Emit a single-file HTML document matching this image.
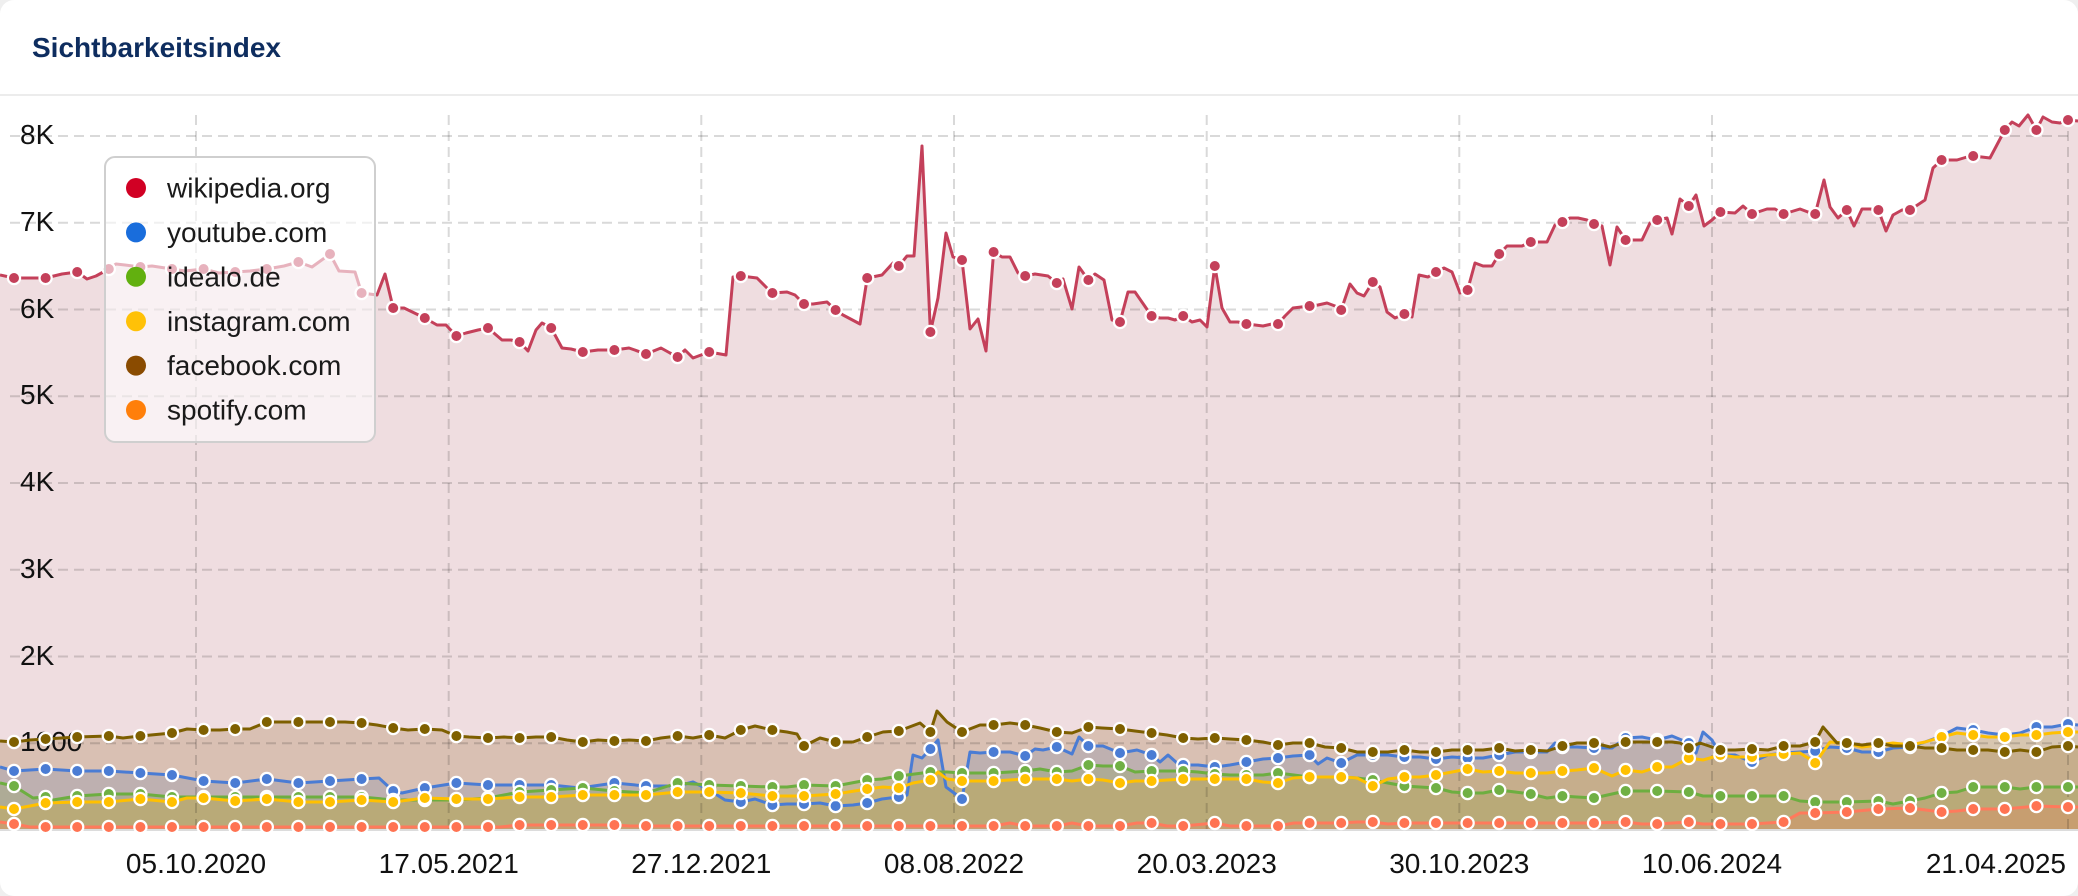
<!DOCTYPE html>
<html><head><meta charset="utf-8"><style>
html,body{margin:0;padding:0;background:#efefef;}
.card{position:absolute;left:0;top:0;width:2078px;height:896px;background:#fff;border-radius:14px;overflow:hidden;}
svg{position:absolute;left:0;top:0;}
text{font-family:"Liberation Sans",Arial,sans-serif;}
</style></head><body><div class="card">
<svg width="2078" height="896" viewBox="0 0 2078 896" xmlns="http://www.w3.org/2000/svg">
<defs>
<marker id="mw" markerWidth="18" markerHeight="18" refX="9" refY="9" markerUnits="userSpaceOnUse" overflow="visible"><circle cx="9" cy="9" r="6.1" fill="#c4405a" stroke="#fff" stroke-width="2.2"/></marker>
<marker id="mb" markerWidth="18" markerHeight="18" refX="9" refY="9" markerUnits="userSpaceOnUse" overflow="visible"><circle cx="9" cy="9" r="6.1" fill="#4a7cd4" stroke="#fff" stroke-width="2.2"/></marker>
<marker id="mg" markerWidth="18" markerHeight="18" refX="9" refY="9" markerUnits="userSpaceOnUse" overflow="visible"><circle cx="9" cy="9" r="6.1" fill="#70b044" stroke="#fff" stroke-width="2.2"/></marker>
<marker id="my" markerWidth="18" markerHeight="18" refX="9" refY="9" markerUnits="userSpaceOnUse" overflow="visible"><circle cx="9" cy="9" r="6.1" fill="#ffc000" stroke="#fff" stroke-width="2.2"/></marker>
<marker id="mf" markerWidth="18" markerHeight="18" refX="9" refY="9" markerUnits="userSpaceOnUse" overflow="visible"><circle cx="9" cy="9" r="6.1" fill="#7f6000" stroke="#fff" stroke-width="2.2"/></marker>
<marker id="mo" markerWidth="18" markerHeight="18" refX="9" refY="9" markerUnits="userSpaceOnUse" overflow="visible"><circle cx="9" cy="9" r="6.1" fill="#ff7352" stroke="#fff" stroke-width="2.2"/></marker>
</defs>

<text x="32" y="57" font-size="28" font-weight="bold" fill="#0e2d5f">Sichtbarkeitsindex</text>
<line x1="0" y1="95" x2="2078" y2="95" stroke="#ececec" stroke-width="2"/>

<!-- fills -->
<polygon fill="rgb(191,119,131)" fill-opacity="0.25" points="0,830 0,275 14,278 30,278 45.6,278 62,274 77.2,272 87,279 96,276 108.8,269 116,264 125,265 140.4,267 152,266 172,269 185,271 203.6,269 219,273 235.2,272 250,271 266.8,269 284,266 298.4,262 312,267 330,254 339,271 355,272 361.6,293 377,295 385,274 393.2,308 404,308 424.8,318 437,325 446,325 456.4,336 466,333 478,330 488,328 502,340 511,340 519.6,342 528,351 536,330 542,323 551.2,328 562,348 571,349 582.8,352 598,350 614.4,350 629,348 646,354 661,348 670,353 677.6,357 685,350 693,358 709.2,352 726,355 733,277 740.8,276 757,278 767,288 772.4,293 787,292 795,295 804,304 813,304 827,302 835.6,310 843,315 860,324 867.2,278 882,275 893,263 898.8,266 907,256 914,256 922,146 930.4,332 938,298 946,233 953,257 962,260 970,329 978,319 986,351 993.6,252 1002,257 1010,257 1018,273 1025.2,276 1035,274 1048,276 1056.8,283 1063,279 1072,309 1079,267 1088.4,280 1095,274 1104,280 1112,320 1120,322 1128,292 1135,292 1151.6,316 1160,318 1168,318 1175,320 1183.2,316 1192,322 1200,320 1207,327 1214.8,266 1222,308 1230,322 1238,322 1246.4,324 1255,325 1263,326 1272,324 1278,324 1285,316 1293,308 1309.6,306 1318,305 1327,303 1335,306 1341.2,310 1350,284 1357,293 1364,296 1372.8,282 1380,287 1387,312 1395,318 1404.4,314 1412,317 1419,275 1428,277 1436,272 1444,268 1452,272 1460,293 1467.6,290 1475,263 1483,266 1492,266 1499.2,254 1507,246 1522,246 1530.8,242 1547,242 1555,225 1562.4,222 1570,218 1578,218 1587,220 1594,224 1602,226 1610,265 1617,227 1625.6,240 1642,240 1650,223 1657.2,220 1667,218 1672,234 1680,199 1688.8,206 1696,195 1704,226 1712,220 1720.4,212 1735,213 1743,206 1752,214 1767,209 1775,209 1783.6,214 1800,209 1808,212 1815.2,214 1824,180 1830,207 1838,218 1846.8,210 1854,226 1862,209 1870,209 1878.4,210 1886,231 1893,215 1902,210 1910,210 1925,200 1933,168 1941.6,160 1957,160 1967,157 1973.2,156 1990,158 2004.8,130 2012,122 2019,126 2028,115 2036.4,130 2043,117 2052,122 2060,123 2068,120 2078,121 2078,830"/>
<polygon fill="rgb(74,123,212)" fill-opacity="0.2" points="0,830 0,767 14,771 45.6,769 77.2,771 108.8,771 140.4,773 172,775 203.6,781 235.2,783 266.8,779 298.4,783 330,781 361.6,779 379,778 393.2,791 402,793 424.8,788 456.4,783 488,785 519.6,785 551.2,785 580,788 614.4,783 646,786 677.6,786 693,782 709.2,790 725,800 740.8,802 755,799 772.4,805 787,804 804,804 820,803 835.6,806 853,805 867.2,803 882,799 898.8,797 907,795 913,755 922,758 930.4,749 938,740 946,787 962,799 970,752 980,753 993.6,752 1010,752 1025.2,756 1035,749 1043,750 1056.8,747 1072,754 1079,737 1088.4,746 1103,746 1120,753 1137,750 1151.6,755 1160,762 1168,755 1177,763 1183.2,765 1198,765 1214.8,767 1230,765 1246.4,762 1263,759 1278,758 1293,756 1309.6,755 1318,764 1327,758 1341.2,763 1357,755 1372.8,755 1388,755 1404.4,757 1420,757 1436,759 1452,757 1467.6,758 1483,758 1499.2,755 1515,752 1530.8,752 1547,752 1555,743 1562.4,747 1577,747 1594,748 1612,748 1625.6,738 1642,737 1657.2,740 1672,736 1688.8,743 1696,753 1703,732 1712,740 1720.4,755 1735,755 1752,762 1768,755 1783.6,753 1800,752 1815.2,751 1830,747 1846.8,748 1862,752 1878.4,752 1893,748 1910,747 1925,742 1941.6,736 1957,728 1973.2,730 1988,733 2004.8,735 2020,733 2036.4,727 2052,727 2068,724 2078,725 2078,830"/>
<polygon fill="rgb(106,170,58)" fill-opacity="0.2" points="0,830 0,783 14,786 33,798 45.6,797 53,800 77.2,796 108.8,794 140.4,794 172,797 203.6,797 235.2,797 266.8,797 298.4,797 330,797 361.6,797 393.2,800 424.8,800 456.4,800 488,798 519.6,792 551.2,790 582.8,788 614.4,791 646,793 677.6,783 709.2,785 740.8,786 772.4,787 787,787 804,785 835.6,786 867.2,780 882,779 898.8,776 930.4,772 947,772 962,773 993.6,773 1010,772 1025.2,771 1040,769 1056.8,772 1072,771 1088.4,765 1103,766 1120,766 1135,772 1151.6,771 1183.2,771 1198,772 1214.8,774 1230,775 1246.4,775 1263,775 1278,773 1309.6,777 1341.2,777 1357,778 1372.8,780 1388,783 1404.4,786 1420,787 1436,788 1452,792 1467.6,793 1483,793 1499.2,790 1515,792 1530.8,794 1547,798 1562.4,796 1577,797 1594,798 1612,794 1625.6,791 1657.2,791 1688.8,792 1703,796 1720.4,796 1752,796 1783.6,796 1800,801 1815.2,802 1846.8,802 1878.4,801 1893,804 1910,801 1925,798 1941.6,793 1957,792 1973.2,787 2004.8,787 2020,789 2036.4,787 2068,787 2078,787 2078,830"/>
<polygon fill="rgb(255,192,0)" fill-opacity="0.2" points="0,830 0,807 14,809 45.6,803 77.2,802 108.8,802 140.4,799 172,802 187,798 203.6,798 235.2,801 266.8,799 298.4,802 330,802 361.6,800 393.2,802 424.8,798 456.4,799 488,799 519.6,797 551.2,797 582.8,795 614.4,795 646,795 677.6,792 709.2,792 740.8,793 772.4,796 804,796 835.6,794 867.2,789 883,787 898.8,788 913,783 930.4,780 938,772 947,779 962,781 993.6,781 1025.2,779 1056.8,779 1072,781 1088.4,779 1103,780 1120,783 1135,781 1151.6,781 1183.2,779 1214.8,779 1246.4,779 1263,782 1278,783 1293,778 1309.6,777 1341.2,777 1357,778 1372.8,786 1388,779 1404.4,777 1420,777 1436,775 1452,772 1467.6,769 1483,772 1499.2,771 1515,773 1530.8,773 1547,773 1562.4,771 1577,770 1594,768 1612,776 1625.6,770 1642,772 1657.2,767 1672,767 1688.8,758 1703,760 1720.4,755 1735,757 1752,757 1768,755 1783.6,754 1800,753 1808,758 1815.2,763 1830,742 1846.8,743 1862,747 1878.4,745 1893,743 1910,745 1925,742 1941.6,737 1957,733 1973.2,735 1988,737 2004.8,737 2020,735 2036.4,735 2052,733 2068,732 2078,732 2078,830"/>
<polygon fill="rgb(130,80,0)" fill-opacity="0.2" points="0,830 0,741 14,742 30,740 45.6,739 77.2,737 108.8,736 123,738 140.4,736 172,733 187,729 203.6,730 220,730 235.2,729 250,729 266.8,722 298.4,722 317,722 330,722 345,722 361.6,723 377,725 393.2,728 408,730 424.8,729 442,730 456.4,736 469,737 488,738 504,737 519.6,738 536,737 551.2,737 567,740 582.8,742 598,740 614.4,741 629,740 646,741 661,738 677.6,736 693,738 709.2,735 725,738 740.8,730 755,726 772.4,730 787,732 797,734 804,746 820,738 835.6,742 853,742 867.2,737 883,732 898.8,731 920,723 930.4,732 937,711 947,722 962,732 980,725 993.6,725 1010,723 1025.2,725 1040,728 1056.8,732 1072,733 1088.4,727 1102,728 1120,729 1135,731 1151.6,733 1167,735 1183.2,738 1198,739 1214.8,738 1230,739 1246.4,740 1263,742 1278,745 1293,743 1309.6,743 1325,747 1341.2,748 1357,752 1372.8,752 1388,752 1404.4,750 1420,752 1436,752 1452,750 1467.6,750 1483,750 1499.2,748 1515,751 1530.8,750 1547,751 1562.4,746 1577,743 1594,743 1610,747 1625.6,742 1642,742 1657.2,742 1672,742 1680,743 1688.8,748 1700,743 1712,747 1720.4,750 1735,750 1752,749 1768,750 1783.6,746 1800,746 1815.2,742 1823,727 1837,743 1846.8,743 1862,745 1878.4,743 1893,746 1910,746 1925,748 1941.6,748 1957,750 1973.2,750 1988,750 2004.8,752 2020,750 2036.4,752 2052,747 2068,746 2078,747 2078,830"/>
<polygon fill="rgb(255,112,80)" fill-opacity="0.2" points="0,830 0,822 14,824 30,827 500,827 519.6,825 614.4,825 630,826 993.6,826 1010,823 1025.2,826 1056.8,826 1072,823 1088.4,826 1120,826 1137,823 1151.6,823 1167,826 1183.2,826 1214.8,823 1230,826 1278,826 1294,823 1341.2,823 1357,822 1372.8,822 1388,824 1404.4,823 1594,823 1625.6,822 1642,824 1657.2,824 1688.8,822 1703,824 1752,824 1783.6,822 1800,813 1815.2,813 1846.8,812 1878.4,809 1910,808 1941.6,812 1957,811 1973.2,809 2004.8,809 2036.4,806 2068,807 2078,807 2078,830"/>

<!-- grid -->
<g stroke="#000" stroke-opacity="0.15" stroke-width="2" stroke-dasharray="10,6" fill="none">
<line x1="10" y1="136" x2="2068" y2="136"/>
<line x1="10" y1="222.75" x2="2068" y2="222.75"/>
<line x1="10" y1="309.5" x2="2068" y2="309.5"/>
<line x1="10" y1="396.25" x2="2068" y2="396.25"/>
<line x1="10" y1="483" x2="2068" y2="483"/>
<line x1="10" y1="569.75" x2="2068" y2="569.75"/>
<line x1="10" y1="656.5" x2="2068" y2="656.5"/>
<line x1="10" y1="743.25" x2="2068" y2="743.25"/>
<line x1="196" y1="115" x2="196" y2="830"/>
<line x1="448.7" y1="115" x2="448.7" y2="830"/>
<line x1="701.3" y1="115" x2="701.3" y2="830"/>
<line x1="954" y1="115" x2="954" y2="830"/>
<line x1="1206.7" y1="115" x2="1206.7" y2="830"/>
<line x1="1459.3" y1="115" x2="1459.3" y2="830"/>
<line x1="1712" y1="115" x2="1712" y2="830"/>
<line x1="2068" y1="115" x2="2068" y2="830"/>
</g>
<line x1="0" y1="830" x2="2078" y2="830" stroke="#dcdcdc" stroke-width="2"/>

<!-- y labels -->
<g font-size="28" fill="#111">
<text x="20" y="144">8K</text>
<text x="20" y="231">7K</text>
<text x="20" y="318">6K</text>
<text x="20" y="404">5K</text>
<text x="20" y="491">4K</text>
<text x="20" y="578">3K</text>
<text x="20" y="665">2K</text>
<text x="20" y="751">1000</text>
</g>

<!-- lines -->
<g fill="none" stroke-width="3" stroke-linejoin="round">
<polyline stroke="#c4405a" points="0,275 14,278 30,278 45.6,278 62,274 77.2,272 87,279 96,276 108.8,269 116,264 125,265 140.4,267 152,266 172,269 185,271 203.6,269 219,273 235.2,272 250,271 266.8,269 284,266 298.4,262 312,267 330,254 339,271 355,272 361.6,293 377,295 385,274 393.2,308 404,308 424.8,318 437,325 446,325 456.4,336 466,333 478,330 488,328 502,340 511,340 519.6,342 528,351 536,330 542,323 551.2,328 562,348 571,349 582.8,352 598,350 614.4,350 629,348 646,354 661,348 670,353 677.6,357 685,350 693,358 709.2,352 726,355 733,277 740.8,276 757,278 767,288 772.4,293 787,292 795,295 804,304 813,304 827,302 835.6,310 843,315 860,324 867.2,278 882,275 893,263 898.8,266 907,256 914,256 922,146 930.4,332 938,298 946,233 953,257 962,260 970,329 978,319 986,351 993.6,252 1002,257 1010,257 1018,273 1025.2,276 1035,274 1048,276 1056.8,283 1063,279 1072,309 1079,267 1088.4,280 1095,274 1104,280 1112,320 1120,322 1128,292 1135,292 1151.6,316 1160,318 1168,318 1175,320 1183.2,316 1192,322 1200,320 1207,327 1214.8,266 1222,308 1230,322 1238,322 1246.4,324 1255,325 1263,326 1272,324 1278,324 1285,316 1293,308 1309.6,306 1318,305 1327,303 1335,306 1341.2,310 1350,284 1357,293 1364,296 1372.8,282 1380,287 1387,312 1395,318 1404.4,314 1412,317 1419,275 1428,277 1436,272 1444,268 1452,272 1460,293 1467.6,290 1475,263 1483,266 1492,266 1499.2,254 1507,246 1522,246 1530.8,242 1547,242 1555,225 1562.4,222 1570,218 1578,218 1587,220 1594,224 1602,226 1610,265 1617,227 1625.6,240 1642,240 1650,223 1657.2,220 1667,218 1672,234 1680,199 1688.8,206 1696,195 1704,226 1712,220 1720.4,212 1735,213 1743,206 1752,214 1767,209 1775,209 1783.6,214 1800,209 1808,212 1815.2,214 1824,180 1830,207 1838,218 1846.8,210 1854,226 1862,209 1870,209 1878.4,210 1886,231 1893,215 1902,210 1910,210 1925,200 1933,168 1941.6,160 1957,160 1967,157 1973.2,156 1990,158 2004.8,130 2012,122 2019,126 2028,115 2036.4,130 2043,117 2052,122 2060,123 2068,120 2078,121"/>
</g>
<polyline fill="none" stroke="none" marker-start="url(#mw)" marker-mid="url(#mw)" marker-end="url(#mw)" points="14,278 45.6,278 77.2,272 108.8,269 140.4,267 172,269 203.6,269 235.2,272 266.8,269 298.4,262 330,254 361.6,293 393.2,308 424.8,318 456.4,336 488,328 519.6,342 551.2,328 582.8,352 614.4,350 646,354 677.6,357 709.2,352 740.8,276 772.4,293 804,304 835.6,310 867.2,278 898.8,266 930.4,332 962,260 993.6,252 1025.2,276 1056.8,283 1088.4,280 1120,322 1151.6,316 1183.2,316 1214.8,266 1246.4,324 1278,324 1309.6,306 1341.2,310 1372.8,282 1404.4,314 1436,272 1467.6,290 1499.2,254 1530.8,242 1562.4,222 1594,224 1625.6,240 1657.2,220 1688.8,206 1720.4,212 1752,214 1783.6,214 1815.2,214 1846.8,210 1878.4,210 1910,210 1941.6,160 1973.2,156 2004.8,130 2036.4,130 2068,120"/>

<polyline fill="none" stroke="#4a7cd4" stroke-width="3" stroke-linejoin="round" points="0,767 14,771 45.6,769 77.2,771 108.8,771 140.4,773 172,775 203.6,781 235.2,783 266.8,779 298.4,783 330,781 361.6,779 379,778 393.2,791 402,793 424.8,788 456.4,783 488,785 519.6,785 551.2,785 580,788 614.4,783 646,786 677.6,786 693,782 709.2,790 725,800 740.8,802 755,799 772.4,805 787,804 804,804 820,803 835.6,806 853,805 867.2,803 882,799 898.8,797 907,795 913,755 922,758 930.4,749 938,740 946,787 962,799 970,752 980,753 993.6,752 1010,752 1025.2,756 1035,749 1043,750 1056.8,747 1072,754 1079,737 1088.4,746 1103,746 1120,753 1137,750 1151.6,755 1160,762 1168,755 1177,763 1183.2,765 1198,765 1214.8,767 1230,765 1246.4,762 1263,759 1278,758 1293,756 1309.6,755 1318,764 1327,758 1341.2,763 1357,755 1372.8,755 1388,755 1404.4,757 1420,757 1436,759 1452,757 1467.6,758 1483,758 1499.2,755 1515,752 1530.8,752 1547,752 1555,743 1562.4,747 1577,747 1594,748 1612,748 1625.6,738 1642,737 1657.2,740 1672,736 1688.8,743 1696,753 1703,732 1712,740 1720.4,755 1735,755 1752,762 1768,755 1783.6,753 1800,752 1815.2,751 1830,747 1846.8,748 1862,752 1878.4,752 1893,748 1910,747 1925,742 1941.6,736 1957,728 1973.2,730 1988,733 2004.8,735 2020,733 2036.4,727 2052,727 2068,724 2078,725"/>
<polyline fill="none" stroke="none" marker-start="url(#mb)" marker-mid="url(#mb)" marker-end="url(#mb)" points="14,771 45.6,769 77.2,771 108.8,771 140.4,773 172,775 203.6,781 235.2,783 266.8,779 298.4,783 330,781 361.6,779 393.2,791 424.8,788 456.4,783 488,785 519.6,785 551.2,785 582.8,788 614.4,783 646,786 677.6,786 709.2,790 740.8,802 772.4,805 804,804 835.6,806 867.2,803 898.8,797 930.4,749 962,799 993.6,752 1025.2,756 1056.8,747 1088.4,746 1120,753 1151.6,755 1183.2,765 1214.8,767 1246.4,762 1278,758 1309.6,755 1341.2,763 1372.8,755 1404.4,757 1436,759 1467.6,758 1499.2,755 1530.8,752 1562.4,747 1594,748 1625.6,738 1657.2,740 1688.8,743 1720.4,755 1752,762 1783.6,753 1815.2,751 1846.8,748 1878.4,752 1910,747 1941.6,736 1973.2,730 2004.8,735 2036.4,727 2068,724"/>

<polyline fill="none" stroke="#6dae40" stroke-width="3" stroke-linejoin="round" points="0,783 14,786 33,798 45.6,797 53,800 77.2,796 108.8,794 140.4,794 172,797 203.6,797 235.2,797 266.8,797 298.4,797 330,797 361.6,797 393.2,800 424.8,800 456.4,800 488,798 519.6,792 551.2,790 582.8,788 614.4,791 646,793 677.6,783 709.2,785 740.8,786 772.4,787 787,787 804,785 835.6,786 867.2,780 882,779 898.8,776 930.4,772 947,772 962,773 993.6,773 1010,772 1025.2,771 1040,769 1056.8,772 1072,771 1088.4,765 1103,766 1120,766 1135,772 1151.6,771 1183.2,771 1198,772 1214.8,774 1230,775 1246.4,775 1263,775 1278,773 1309.6,777 1341.2,777 1357,778 1372.8,780 1388,783 1404.4,786 1420,787 1436,788 1452,792 1467.6,793 1483,793 1499.2,790 1515,792 1530.8,794 1547,798 1562.4,796 1577,797 1594,798 1612,794 1625.6,791 1657.2,791 1688.8,792 1703,796 1720.4,796 1752,796 1783.6,796 1800,801 1815.2,802 1846.8,802 1878.4,801 1893,804 1910,801 1925,798 1941.6,793 1957,792 1973.2,787 2004.8,787 2020,789 2036.4,787 2068,787 2078,787"/>
<polyline fill="none" stroke="none" marker-start="url(#mg)" marker-mid="url(#mg)" marker-end="url(#mg)" points="14,786 45.6,797 77.2,796 108.8,794 140.4,794 172,797 203.6,797 235.2,797 266.8,797 298.4,797 330,797 361.6,797 393.2,800 424.8,800 456.4,800 488,798 519.6,792 551.2,790 582.8,788 614.4,791 646,793 677.6,783 709.2,785 740.8,786 772.4,787 804,785 835.6,786 867.2,780 898.8,776 930.4,772 962,773 993.6,773 1025.2,771 1056.8,772 1088.4,765 1120,766 1151.6,771 1183.2,771 1214.8,774 1246.4,775 1278,773 1309.6,777 1341.2,777 1372.8,780 1404.4,786 1436,788 1467.6,793 1499.2,790 1530.8,794 1562.4,796 1594,798 1625.6,791 1657.2,791 1688.8,792 1720.4,796 1752,796 1783.6,796 1815.2,802 1846.8,802 1878.4,801 1910,801 1941.6,793 1973.2,787 2004.8,787 2036.4,787 2068,787"/>

<polyline fill="none" stroke="#ffc000" stroke-width="3" stroke-linejoin="round" points="0,807 14,809 45.6,803 77.2,802 108.8,802 140.4,799 172,802 187,798 203.6,798 235.2,801 266.8,799 298.4,802 330,802 361.6,800 393.2,802 424.8,798 456.4,799 488,799 519.6,797 551.2,797 582.8,795 614.4,795 646,795 677.6,792 709.2,792 740.8,793 772.4,796 804,796 835.6,794 867.2,789 883,787 898.8,788 913,783 930.4,780 938,772 947,779 962,781 993.6,781 1025.2,779 1056.8,779 1072,781 1088.4,779 1103,780 1120,783 1135,781 1151.6,781 1183.2,779 1214.8,779 1246.4,779 1263,782 1278,783 1293,778 1309.6,777 1341.2,777 1357,778 1372.8,786 1388,779 1404.4,777 1420,777 1436,775 1452,772 1467.6,769 1483,772 1499.2,771 1515,773 1530.8,773 1547,773 1562.4,771 1577,770 1594,768 1612,776 1625.6,770 1642,772 1657.2,767 1672,767 1688.8,758 1703,760 1720.4,755 1735,757 1752,757 1768,755 1783.6,754 1800,753 1808,758 1815.2,763 1830,742 1846.8,743 1862,747 1878.4,745 1893,743 1910,745 1925,742 1941.6,737 1957,733 1973.2,735 1988,737 2004.8,737 2020,735 2036.4,735 2052,733 2068,732 2078,732"/>
<polyline fill="none" stroke="none" marker-start="url(#my)" marker-mid="url(#my)" marker-end="url(#my)" points="14,809 45.6,803 77.2,802 108.8,802 140.4,799 172,802 203.6,798 235.2,801 266.8,799 298.4,802 330,802 361.6,800 393.2,802 424.8,798 456.4,799 488,799 519.6,797 551.2,797 582.8,795 614.4,795 646,795 677.6,792 709.2,792 740.8,793 772.4,796 804,796 835.6,794 867.2,789 898.8,788 930.4,780 962,781 993.6,781 1025.2,779 1056.8,779 1088.4,779 1120,783 1151.6,781 1183.2,779 1214.8,779 1246.4,779 1278,783 1309.6,777 1341.2,777 1372.8,786 1404.4,777 1436,775 1467.6,769 1499.2,771 1530.8,773 1562.4,771 1594,768 1625.6,770 1657.2,767 1688.8,758 1720.4,755 1752,757 1783.6,754 1815.2,763 1846.8,743 1878.4,745 1910,745 1941.6,737 1973.2,735 2004.8,737 2036.4,735 2068,732"/>

<polyline fill="none" stroke="#7d5f00" stroke-width="3" stroke-linejoin="round" points="0,741 14,742 30,740 45.6,739 77.2,737 108.8,736 123,738 140.4,736 172,733 187,729 203.6,730 220,730 235.2,729 250,729 266.8,722 298.4,722 317,722 330,722 345,722 361.6,723 377,725 393.2,728 408,730 424.8,729 442,730 456.4,736 469,737 488,738 504,737 519.6,738 536,737 551.2,737 567,740 582.8,742 598,740 614.4,741 629,740 646,741 661,738 677.6,736 693,738 709.2,735 725,738 740.8,730 755,726 772.4,730 787,732 797,734 804,746 820,738 835.6,742 853,742 867.2,737 883,732 898.8,731 920,723 930.4,732 937,711 947,722 962,732 980,725 993.6,725 1010,723 1025.2,725 1040,728 1056.8,732 1072,733 1088.4,727 1102,728 1120,729 1135,731 1151.6,733 1167,735 1183.2,738 1198,739 1214.8,738 1230,739 1246.4,740 1263,742 1278,745 1293,743 1309.6,743 1325,747 1341.2,748 1357,752 1372.8,752 1388,752 1404.4,750 1420,752 1436,752 1452,750 1467.6,750 1483,750 1499.2,748 1515,751 1530.8,750 1547,751 1562.4,746 1577,743 1594,743 1610,747 1625.6,742 1642,742 1657.2,742 1672,742 1680,743 1688.8,748 1700,743 1712,747 1720.4,750 1735,750 1752,749 1768,750 1783.6,746 1800,746 1815.2,742 1823,727 1837,743 1846.8,743 1862,745 1878.4,743 1893,746 1910,746 1925,748 1941.6,748 1957,750 1973.2,750 1988,750 2004.8,752 2020,750 2036.4,752 2052,747 2068,746 2078,747"/>
<polyline fill="none" stroke="none" marker-start="url(#mf)" marker-mid="url(#mf)" marker-end="url(#mf)" points="14,742 45.6,739 77.2,737 108.8,736 140.4,736 172,733 203.6,730 235.2,729 266.8,722 298.4,722 330,722 361.6,723 393.2,728 424.8,729 456.4,736 488,738 519.6,738 551.2,737 582.8,742 614.4,741 646,741 677.6,736 709.2,735 740.8,730 772.4,730 804,746 835.6,742 867.2,737 898.8,731 930.4,732 962,732 993.6,725 1025.2,725 1056.8,732 1088.4,727 1120,729 1151.6,733 1183.2,738 1214.8,738 1246.4,740 1278,745 1309.6,743 1341.2,748 1372.8,752 1404.4,750 1436,752 1467.6,750 1499.2,748 1530.8,750 1562.4,746 1594,743 1625.6,742 1657.2,742 1688.8,748 1720.4,750 1752,749 1783.6,746 1815.2,742 1846.8,743 1878.4,743 1910,746 1941.6,748 1973.2,750 2004.8,752 2036.4,752 2068,746"/>

<polyline fill="none" stroke="#ff7a5c" stroke-width="3" stroke-linejoin="round" points="0,822 14,824 30,827 500,827 519.6,825 614.4,825 630,826 993.6,826 1010,823 1025.2,826 1056.8,826 1072,823 1088.4,826 1120,826 1137,823 1151.6,823 1167,826 1183.2,826 1214.8,823 1230,826 1278,826 1294,823 1341.2,823 1357,822 1372.8,822 1388,824 1404.4,823 1594,823 1625.6,822 1642,824 1657.2,824 1688.8,822 1703,824 1752,824 1783.6,822 1800,813 1815.2,813 1846.8,812 1878.4,809 1910,808 1941.6,812 1957,811 1973.2,809 2004.8,809 2036.4,806 2068,807 2078,807"/>
<polyline fill="none" stroke="none" marker-start="url(#mo)" marker-mid="url(#mo)" marker-end="url(#mo)" points="14,824 45.6,827 77.2,827 108.8,827 140.4,827 172,827 203.6,827 235.2,827 266.8,827 298.4,827 330,827 361.6,827 393.2,827 424.8,827 456.4,827 488,827 519.6,825 551.2,825 582.8,825 614.4,825 646,826 677.6,826 709.2,826 740.8,826 772.4,826 804,826 835.6,826 867.2,826 898.8,826 930.4,826 962,826 993.6,826 1025.2,826 1056.8,826 1088.4,826 1120,826 1151.6,823 1183.2,826 1214.8,823 1246.4,826 1278,826 1309.6,823 1341.2,823 1372.8,822 1404.4,823 1436,823 1467.6,823 1499.2,823 1530.8,823 1562.4,823 1594,823 1625.6,822 1657.2,824 1688.8,822 1720.4,824 1752,824 1783.6,822 1815.2,813 1846.8,812 1878.4,809 1910,808 1941.6,812 1973.2,809 2004.8,809 2036.4,806 2068,807"/>

<!-- x labels -->
<g font-size="28" fill="#111" text-anchor="middle">
<text x="196" y="873">05.10.2020</text>
<text x="448.7" y="873">17.05.2021</text>
<text x="701.3" y="873">27.12.2021</text>
<text x="954" y="873">08.08.2022</text>
<text x="1206.7" y="873">20.03.2023</text>
<text x="1459.3" y="873">30.10.2023</text>
<text x="1712" y="873">10.06.2024</text>
<text x="2066" y="873" text-anchor="end">21.04.2025</text>
</g>

<!-- legend -->
<rect x="105" y="157" width="270" height="285" rx="10" ry="10" fill="#fff" fill-opacity="0.6" stroke="#cfcfcf" stroke-width="2"/>
<circle cx="136" cy="188" r="10" fill="#d10024"/>
<circle cx="136" cy="232.4" r="10" fill="#196ddc"/>
<circle cx="136" cy="276.8" r="10" fill="#62b00f"/>
<circle cx="136" cy="321.2" r="10" fill="#ffc107"/>
<circle cx="136" cy="365.6" r="10" fill="#8a4b00"/>
<circle cx="136" cy="410" r="10" fill="#ff7f0a"/>
<g font-size="28" fill="#1a1a1a">
<text x="167" y="197.5">wikipedia.org</text>
<text x="167" y="242">youtube.com</text>
<text x="167" y="286.5">idealo.de</text>
<text x="167" y="331">instagram.com</text>
<text x="167" y="375">facebook.com</text>
<text x="167" y="419.5">spotify.com</text>
</g>
</svg>
</div></body></html>
